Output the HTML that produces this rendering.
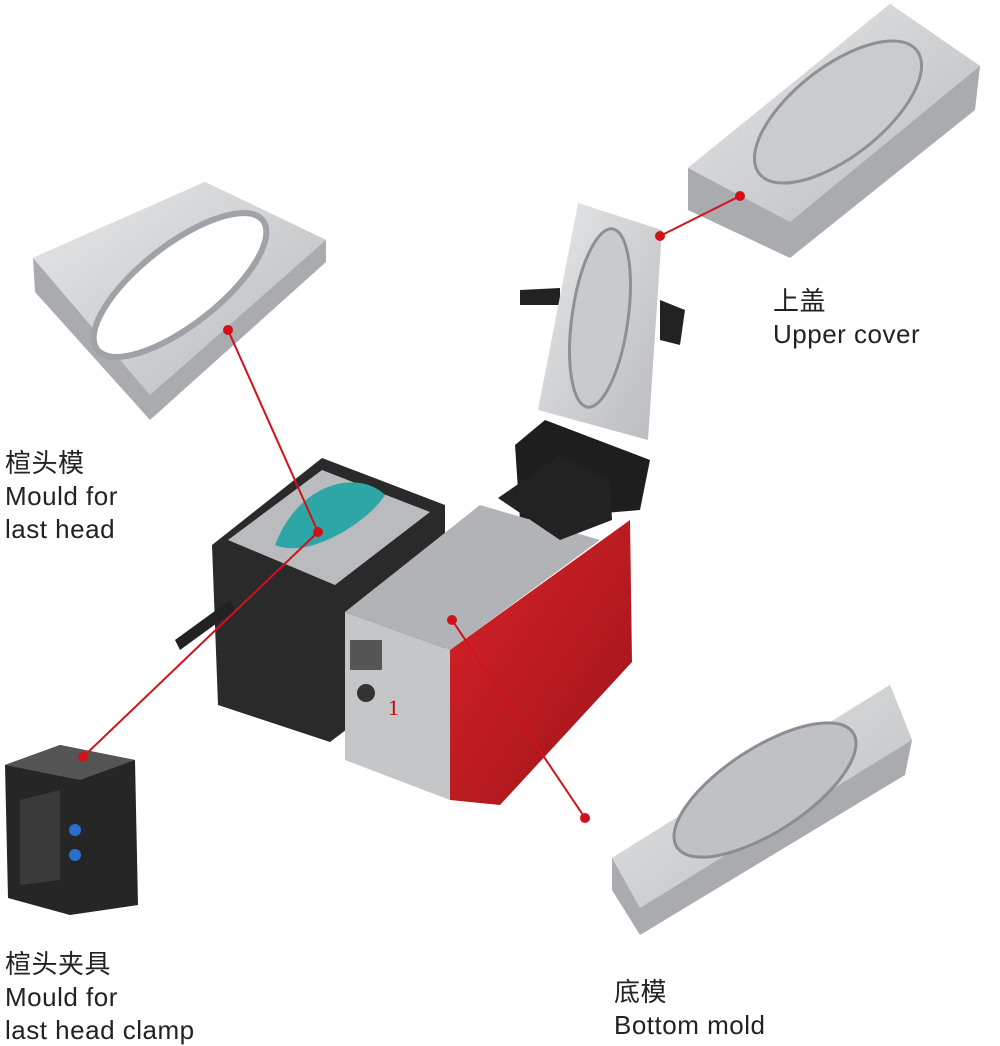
<!DOCTYPE html>
<html><head><meta charset="utf-8"><style>
html,body{margin:0;padding:0;background:#fff;}
.t{position:absolute;font-family:"Liberation Sans","Noto Sans CJK SC",sans-serif;font-size:26px;letter-spacing:0.5px;color:#222;line-height:33px;}
</style></head><body>
<div style="position:relative;width:1000px;height:1046px;overflow:hidden;">
<svg width="1000" height="1046" style="position:absolute;left:0;top:0">
<defs>
<linearGradient id="g1" x1="0" y1="0" x2="1" y2="1"><stop offset="0" stop-color="#e6e7e8"/><stop offset="1" stop-color="#b9bbbe"/></linearGradient>
<linearGradient id="rd" x1="0" y1="0" x2="1" y2="1"><stop offset="0" stop-color="#d8232a"/><stop offset="1" stop-color="#9e1418"/></linearGradient>
</defs>
<!-- upper cover plate -->
<polygon points="688,168 890,4 980,66 975,110 790,258 688,210" fill="#a9abae"/>
<polygon points="688,168 890,4 980,66 790,222" fill="url(#g1)"/>
<ellipse cx="838" cy="112" rx="100" ry="45" transform="rotate(-38 838 112)" fill="#c9cbcd" stroke="#8d9094" stroke-width="3"/>
<!-- last head plate -->
<polygon points="33,258 205,182 326,240 326,262 150,420 35,292" fill="#a9abae"/>
<polygon points="33,258 205,182 326,240 150,395" fill="url(#g1)"/>
<ellipse cx="180" cy="285" rx="105" ry="40" transform="rotate(-38 180 285)" fill="#fff" stroke="#9fa2a6" stroke-width="6"/>
<!-- bottom plate -->
<polygon points="612,858 890,685 912,740 905,775 640,935 612,890" fill="#a9abae"/>
<polygon points="612,858 890,685 912,740 640,908" fill="url(#g1)"/>
<ellipse cx="765" cy="790" rx="105" ry="42" transform="rotate(-33 765 790)" fill="#bfc1c4" stroke="#8a8d91" stroke-width="3"/>
<!-- standing plate and arms -->
<polygon points="520,290 560,288 560,305 520,305" fill="#222"/>
<polygon points="660,300 685,310 680,345 660,340" fill="#222"/>
<polygon points="515,445 545,420 650,460 640,510 520,520" fill="#1e1e1e"/>
<polygon points="578,203 662,230 648,440 538,410" fill="url(#g1)"/>
<ellipse cx="600" cy="318" rx="28" ry="90" transform="rotate(8 600 318)" fill="#c8cacc" stroke="#8d9094" stroke-width="3"/>
<!-- machine left unit -->
<polygon points="212,545 322,458 445,505 445,655 330,742 218,705" fill="#2a2a2a"/>
<polygon points="228,540 322,470 430,512 335,585" fill="#b9bbbe"/>
<path d="M275,545 C300,480 360,470 385,495 C370,520 310,560 275,545Z" fill="#2fa6a6"/>
<polygon points="175,640 230,600 235,610 180,650" fill="#222"/>
<!-- machine right unit -->
<polygon points="345,612 450,650 450,800 345,760" fill="#c4c6c8"/>
<polygon points="345,612 480,505 600,540 450,650" fill="#b1b3b6"/>
<polygon points="450,650 630,520 632,662 500,805 450,800" fill="url(#rd)"/>
<polygon points="498,498 560,455 610,480 612,520 560,540" fill="#222"/>
<rect x="350" y="640" width="32" height="30" fill="#555"/>
<circle cx="366" cy="693" r="9" fill="#333"/>
<text x="388" y="715" font-size="22" fill="#c00" font-family="Liberation Serif">1</text>
<!-- clamp -->
<polygon points="5,765 60,745 135,760 138,905 70,915 8,898" fill="#262626"/>
<polygon points="5,765 60,745 135,760 80,780" fill="#555"/>
<polygon points="20,800 60,790 60,880 20,885" fill="#3a3a3a"/>
<circle cx="75" cy="830" r="6" fill="#2a6fd0"/><circle cx="75" cy="855" r="6" fill="#2a6fd0"/>
<!-- red leaders -->
<g stroke="#d0121b" stroke-width="2" fill="none">
<line x1="228" y1="330" x2="318" y2="532"/>
<line x1="318" y1="532" x2="83" y2="757"/>
<line x1="740" y1="196" x2="660" y2="236"/>
<line x1="452" y1="620" x2="585" y2="818"/>
</g>
<g fill="#d0121b">
<circle cx="228" cy="330" r="5"/><circle cx="318" cy="532" r="5"/><circle cx="83" cy="757" r="5"/>
<circle cx="740" cy="196" r="5"/><circle cx="660" cy="236" r="5"/><circle cx="452" cy="620" r="5"/><circle cx="585" cy="818" r="5"/>
</g>
</svg>
<div class="t" style="left:773px;top:285px">上盖<br>Upper cover</div>
<div class="t" style="left:5px;top:447px">楦头模<br>Mould for<br>last head</div>
<div class="t" style="left:5px;top:948px">楦头夹具<br>Mould for<br>last head clamp</div>
<div class="t" style="left:614px;top:976px">底模<br>Bottom mold</div>
</div>
</body></html>
